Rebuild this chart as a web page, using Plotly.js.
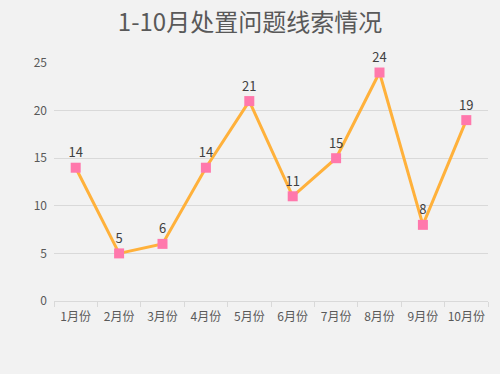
<!DOCTYPE html>
<html><head><meta charset="utf-8">
<script src="https://cdn.plot.ly/plotly-3.0.1.min.js"></script>
<style>html,body{margin:0;padding:0;background:#f2f2f2;}#c{width:500px;height:374px;}</style>
</head><body><div id="c"></div>
<script>
const months = ["1月份","2月份","3月份","4月份","5月份","6月份","7月份","8月份","9月份","10月份"];
const counts = [14,5,6,14,21,11,15,24,8,19];
const font = "'Noto Sans CJK SC', 'Microsoft YaHei', sans-serif";
Plotly.newPlot('c', [{
  type:'scatter', mode:'lines+markers+text',
  x: months, y: counts,
  text: counts.map(String), textposition:'top center',
  textfont:{size:13, color:'#404040', family:font},
  line:{color:'#ffb13b', width:3},
  marker:{symbol:'square', size:10, color:'#ff78ac', line:{width:0}},
  cliponaxis:false, hoverinfo:'skip'
}], {
  width:500, height:374,
  paper_bgcolor:'#f2f2f2', plot_bgcolor:'#f2f2f2',
  margin:{l:54, r:12, t:63, b:73},
  showlegend:false,
  title:{text:'1-10月处置问题线索情况', x:0.5, xanchor:'center', y:0.94, yanchor:'middle',
    font:{size:24, color:'#595959', family:font}},
  xaxis:{type:'category', range:[-0.5, months.length-0.5], tickson:'boundaries', ticks:'outside', ticklen:5, tickcolor:'#d9d9d9',
    showline:true, linecolor:'#d9d9d9', linewidth:1, showgrid:false, tickangle:0, automargin:false,
    ticklabelstandoff:5,
    tickfont:{size:12, color:'#595959', family:font}, fixedrange:true},
  yaxis:{range:[0,25], dtick:5, showgrid:true, gridcolor:'#d9d9d9', zeroline:false, showline:false,
    ticks:'', ticklabelstandoff:6, automargin:false,
    tickfont:{size:12, color:'#595959', family:font}, fixedrange:true}
}, {displayModeBar:false, staticPlot:true});
</script></body></html>
